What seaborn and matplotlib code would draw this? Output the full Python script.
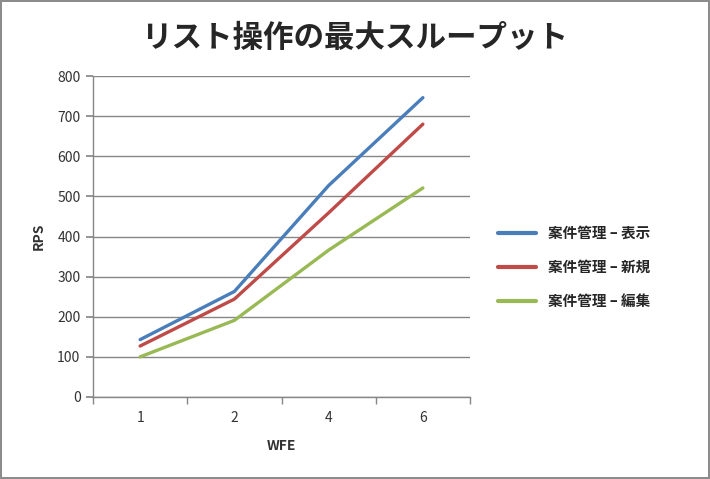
import matplotlib
matplotlib.use("Agg")
import matplotlib.pyplot as plt
import seaborn as sns
import pandas as pd
from matplotlib.ticker import FixedLocator

categories = ["1", "2", "4", "6"]
series_names = ["案件管理 – 表示", "案件管理 – 新規", "案件管理 – 編集"]
view_vals = [143, 263, 527, 746]
new_vals = [127, 244, 459, 680]
edit_vals = [100, 191, 366, 521]
colors = ["#4A7EBB", "#BE4B48", "#98B954"]
yticks = [0, 100, 200, 300, 400, 500, 600, 700, 800]

sns.set_theme(style="white")
plt.rcParams['font.family'] = ['Noto Sans CJK JP', 'DejaVu Sans']

rows = []
for name, vals in zip(series_names, [view_vals, new_vals, edit_vals]):
    for c, v in zip(categories, vals):
        rows.append({"WFE": c, "RPS": v, "series": name})
df = pd.DataFrame(rows)

fig = plt.figure(figsize=(7.1, 4.79), dpi=100)
fig.patch.set_edgecolor("#8C8C8C")
fig.patch.set_linewidth(1.5)
ax = fig.add_axes([93/710, 1 - 397/479, (470 - 93)/710, (397 - 76)/479])

sns.lineplot(data=df, x="WFE", y="RPS", hue="series", palette=colors,
             linewidth=2.4, ax=ax, sort=False, legend=True)

ax.set_xlim(-0.5, 3.5)
ax.set_ylim(0, 800)
ax.set_yticks(yticks)
ax.yaxis.grid(True, color="#868686", linewidth=1)
ax.set_axisbelow(True)
for s in ["top", "right"]:
    ax.spines[s].set_visible(False)
for s in ["left", "bottom"]:
    ax.spines[s].set_color("#868686")
    ax.spines[s].set_linewidth(1)

ax.set_xticks(range(len(categories)))
ax.set_xticklabels(categories)
ax.xaxis.set_minor_locator(FixedLocator([-0.5, 0.5, 1.5, 2.5, 3.5]))
ax.tick_params(axis="x", which="major", length=0, pad=10, labelsize=10, labelcolor="#333333")
ax.tick_params(axis="x", which="minor", length=5, color="#868686", direction="out", bottom=True)
ax.tick_params(axis="y", which="major", length=5, color="#868686", direction="out", left=True,
               labelsize=10, labelcolor="#333333", pad=4)

ax.set_xlabel("WFE", fontsize=10, fontweight="bold", labelpad=10, color="#333333")
ax.set_ylabel("RPS", fontsize=10, fontweight="bold", labelpad=8, color="#333333")

fig.suptitle("リスト操作の最大スループット", fontsize=22, fontweight="bold", y=0.955, x=0.5)

leg = ax.legend(loc="center left", bbox_to_anchor=(1.04, 0.405), frameon=False,
                fontsize=10.5, handlelength=2.6, labelspacing=1.25, handletextpad=0.8)
for t in leg.get_texts():
    t.set_fontweight("bold")
for l in leg.get_lines():
    l.set_linewidth(3)

fig.savefig("out.png", dpi=100)
